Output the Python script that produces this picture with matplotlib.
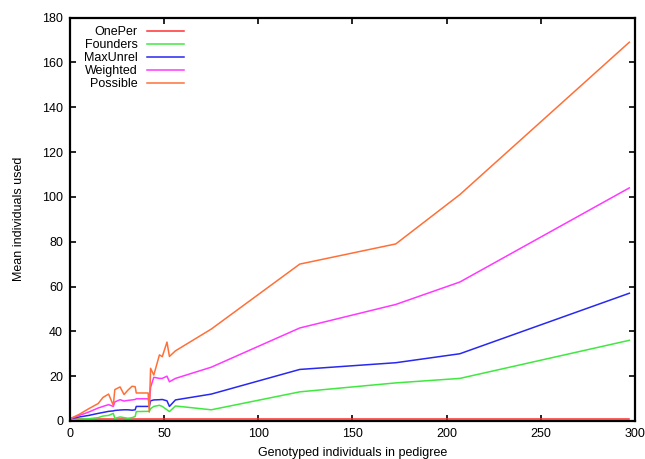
import numpy
import matplotlib
matplotlib.use("Agg")
import matplotlib.pyplot as plt

plt.rcParams['font.family'] = ['Liberation Sans', 'DejaVu Sans']
plt.rcParams['font.size'] = 9

# pedigree sizes (genotyped individuals)
genotyped = [0, 5, 10, 15, 17.5, 20.5, 23, 23.8, 26.6, 28.7, 30.8, 33, 34.6, 35.2,
             41.5, 42.1, 42.8, 44.5, 47.5, 49, 51.5, 52.8, 56, 75, 122, 173, 207, 297]

onePer = [1]*len(genotyped)
founders = [0.5, 0.8, 1, 1.5, 2.2, 2.5, 3.4, 1.2, 1.8, 1.5, 1.2, 1.5, 2, 4.2,
            4.3, 4.3, 5.5, 6.5, 7, 6.5, 5, 4.2, 6.7, 5, 13, 17, 19, 36]
maxUnrel = [1, 1.8, 2.5, 3.4, 3.8, 4.3, 4.5, 4.7, 4.9, 5, 5, 4.8, 5, 6.5,
            6.5, 6.5, 9, 9.4, 9.5, 9.6, 9, 6.5, 9.4, 12, 23, 26, 30, 57]
weighted = [1, 2.5, 4, 5.8, 6.5, 7.3, 6.5, 8.5, 9.5, 8.9, 9.2, 9.4, 9.6, 9.9,
            9.9, 7.7, 15, 19.5, 19, 19, 20, 17.5, 19, 24, 41.5, 52, 62, 104]
possible = [1, 3, 5.5, 7.8, 10.5, 12, 7, 14, 15.2, 11.8, 13.8, 15.5, 15.3, 12.5,
            12.5, 4, 23.5, 20.5, 29.5, 28.7, 35.2, 28.8, 31.3, 41, 70, 79, 101, 169]

names = ["OnePer", "Founders", "MaxUnrel", "Weighted", "Possible"]
series = [onePer, founders, maxUnrel, weighted, possible]
colors = ["#ff3030", "#40e840", "#2828f0", "#ff38ff", "#ff7038"]

fig = plt.figure(figsize=(6.45, 4.59), dpi=100)
ax = fig.add_axes([0.1085, 0.0828, 0.876, 0.879])

for name, vals, col in zip(names, series, colors):
    ax.plot(genotyped, vals, '-', color=col, lw=1.1, label=name)

ax.set_xlim(0, 300)
ax.set_ylim(0, 180)
ax.set_xticks(numpy.arange(0, 301, 50))
ax.set_yticks(numpy.arange(0, 181, 20))
ax.tick_params(direction='in', length=4.5, width=1.2, top=True, right=True, pad=5)
for s in ax.spines.values():
    s.set_linewidth(1.6)
ax.set_xlabel("Genotyped individuals in pedigree", labelpad=5)
ax.set_ylabel("Mean individuals used", labelpad=12)

leg = ax.legend(loc='upper left', bbox_to_anchor=(0.025, 0.978), frameon=False,
                markerfirst=False, handlelength=3.0, handletextpad=0.7,
                labelspacing=0.07, borderpad=0, borderaxespad=0)

fig.savefig("out.png", dpi=100)
